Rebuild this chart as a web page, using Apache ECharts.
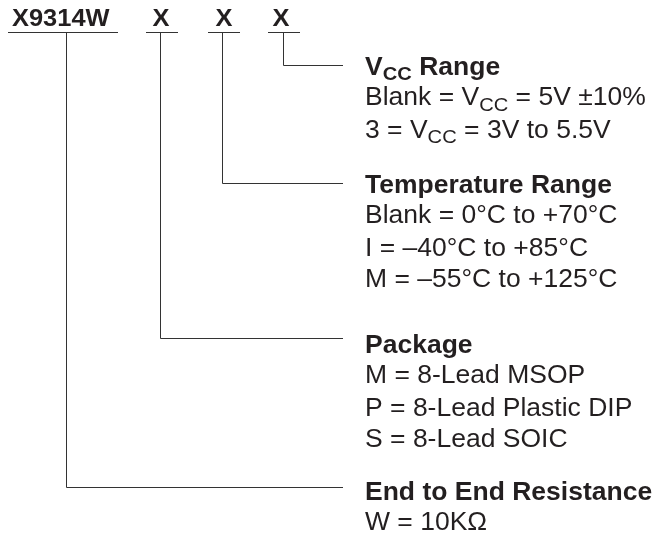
<!DOCTYPE html>
<html>
<head>
<meta charset="utf-8">
<script src="https://cdn.jsdelivr.net/npm/echarts@6/dist/echarts.min.js"></script>
<style>
html,body{margin:0;padding:0;background:#fff;}
#chart{width:655px;height:534px;}
</style>
</head>
<body>
<div id="chart"></div>
<script>
// ---- content ----
const partFields = ['X9314W', 'X', 'X', 'X'];
const sectionTitles = ['V_{CC} Range', 'Temperature Range', 'Package', 'End to End Resistance'];
const vccOptions = ['Blank = V_{CC} = 5V \u00B110%', '3 = V_{CC} = 3V to 5.5V'];
const temperatureOptions = ['Blank = 0\u00B0C to +70\u00B0C', 'I = \u201340\u00B0C to +85\u00B0C', 'M = \u201355\u00B0C to +125\u00B0C'];
const packageOptions = ['M = 8-Lead MSOP', 'P = 8-Lead Plastic DIP', 'S = 8-Lead SOIC'];
const resistanceOptions = ['W = 10K\u03A9'];
const sectionOptions = [vccOptions, temperatureOptions, packageOptions, resistanceOptions];
// which part field each section explains
const sectionField = [3, 2, 1, 0];

// ---- layout ----
const W = 655, H = 534;
const FIELD_TEXT_X = [12, 161, 224, 281];
const FIELD_ALIGN = ['left', 'center', 'center', 'center'];
const FIELD_TEXT_Y = 19;
const UNDERLINE_Y = 32.5;
const UNDERLINES = [[8, 118], [146, 178], [208, 240], [268, 300]];
const DROP_X = [66.5, 160.5, 222.5, 283.5];
const SECTION_Y = [68, 186, 346, 493];
const ELBOW_Y = [65.5, 183.5, 338.5, 487.5];
const LINE_END_X = 343;
const TEXT_X = 365;
const LINE_STEP = 31.5;
const H_SCALE = 1.06;
const INK = '#231f20';
const FONT = 'Liberation Sans, Arial, Helvetica, sans-serif';

function toRich(str, bold) {
  const parts = str.split(/_\{([^}]*)\}/);
  let out = '';
  parts.forEach((p, i) => {
    if (!p) return;
    const style = (bold ? 'b' : 'n') + (i % 2 ? 's' : '');
    out += '{' + style + '|' + p + '}';
  });
  return out;
}

// build text items
const textItems = [];
partFields.forEach((f, i) => {
  textItems.push({ x: FIELD_TEXT_X[i], y: FIELD_TEXT_Y, text: '{c|' + f + '}', align: FIELD_ALIGN[i] });
});
sectionTitles.forEach((t, s) => {
  textItems.push({ x: TEXT_X, y: SECTION_Y[s], text: toRich(t, true), align: 'left' });
  sectionOptions[s].forEach((o, k) => {
    textItems.push({ x: TEXT_X, y: SECTION_Y[s] + LINE_STEP * (k + 1) - (k === 0 ? 1 : 0), text: toRich(o, false), align: 'left' });
  });
});

// connector lines
const connectorData = sectionTitles.map((t, s) => {
  const f = sectionField[s];
  return { coords: [[DROP_X[f], UNDERLINE_Y], [DROP_X[f], ELBOW_Y[s]], [LINE_END_X, ELBOW_Y[s]]] };
});
const underlineData = UNDERLINES.map(u => ({ coords: [[u[0], UNDERLINE_Y], [u[1], UNDERLINE_Y]] }));

const LH = 32;
const richStyles = {
  n: { fontSize: 25, fontFamily: FONT, fill: INK, lineHeight: LH },
  ns: { fontSize: 19, fontFamily: FONT, fill: INK, lineHeight: LH, padding: [14, 0, 0, 0] },
  b: { fontSize: 25, fontFamily: FONT, fontWeight: 'bold', fill: INK, lineHeight: LH },
  bs: { fontSize: 19, fontFamily: FONT, fontWeight: 'bold', fill: INK, lineHeight: LH, padding: [14, 0, 0, 0] },
  c: { fontSize: 24, fontFamily: FONT, fontWeight: 'bold', fill: INK, lineHeight: LH }
};

const chart = echarts.init(document.getElementById('chart'), null, { renderer: 'canvas' });
chart.setOption({
  animation: false,
  backgroundColor: '#ffffff',
  grid: { left: 0, right: 0, top: 0, bottom: 0 },
  xAxis: { type: 'value', min: 0, max: W, show: false },
  yAxis: { type: 'value', min: 0, max: H, inverse: true, show: false },
  series: [
    {
      type: 'lines', coordinateSystem: 'cartesian2d', polyline: true, silent: true,
      lineStyle: { color: '#333', width: 1, opacity: 1 },
      data: connectorData
    },
    {
      type: 'lines', coordinateSystem: 'cartesian2d', polyline: true, silent: true,
      lineStyle: { color: '#333', width: 1, opacity: 1 },
      data: underlineData
    },
    {
      type: 'custom', coordinateSystem: 'cartesian2d', silent: true,
      data: textItems.map(t => [t.x, t.y]),
      encode: { x: 0, y: 1 },
      renderItem: function (params, api) {
        const item = textItems[params.dataIndex];
        const p = api.coord([api.value(0), api.value(1)]);
        return {
          type: 'text', x: p[0], y: p[1], scaleX: H_SCALE,
          style: { text: item.text, rich: richStyles, align: item.align, verticalAlign: 'middle', fill: INK, font: '25px ' + FONT }
        };
      }
    }
  ]
});
</script>
</body>
</html>
